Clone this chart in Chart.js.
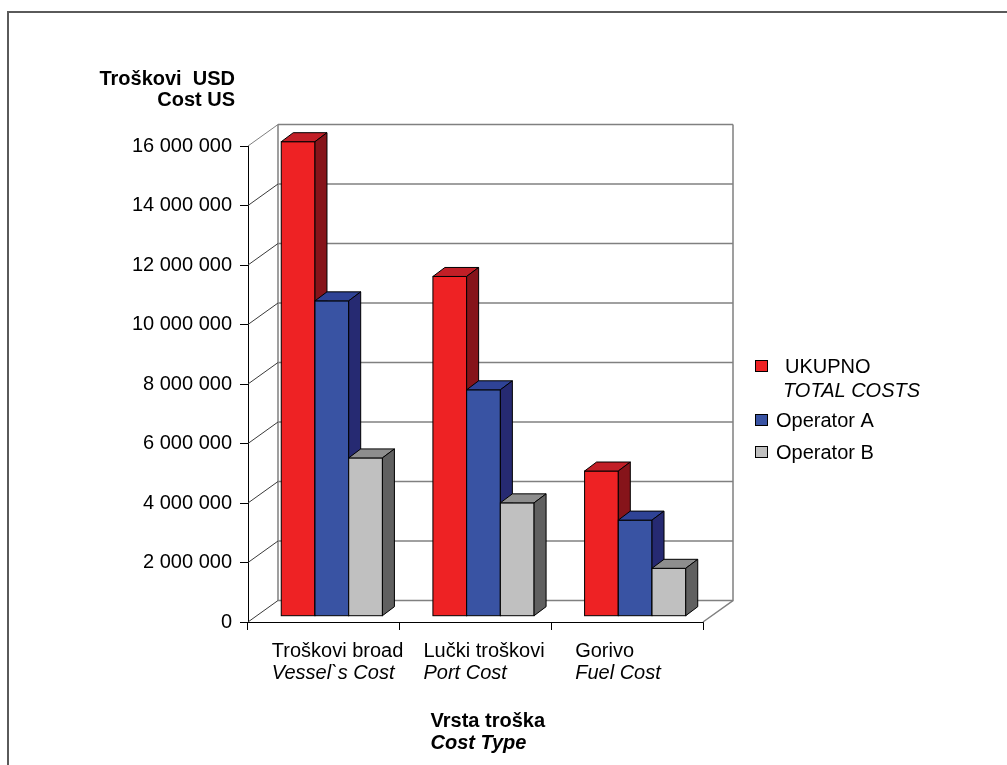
<!DOCTYPE html>
<html lang="hr">
<head>
  <meta charset="UTF-8">
  <title>Troškovi po vrsti troška</title>
  <script src="https://cdn.jsdelivr.net/npm/chart.js"></script>
  <style>
    body { margin: 0; background: #fff; }
    canvas { display: block; }
  </style>
</head>
<body>
  <canvas id="chart" width="1007" height="765" style="width:1007px;height:765px"></canvas>

  <script>
    // podaci
    const categories = ['Troškovi broad', 'Lučki troškovi', 'Gorivo'];
    const categoriesEn = ['Vessel`s Cost', 'Port Cost', 'Fuel Cost'];
    const seriesNames = ['UKUPNO', 'Operator A', 'Operator B'];
    const seriesNamesEn = ['TOTAL COSTS', '', ''];
    const totalCosts = [15950000, 11420000, 4880000];
    const operatorA = [10600000, 7610000, 3230000];
    const operatorB = [5320000, 3810000, 1610000];
    const yMax = 16000000;
    const yStep = 2000000;

    const FONT = "'Liberation Sans', Arial, sans-serif";
    const SIZE = 20;

    // boje: prednja strana, vrh, bok
    const faces = [
      ['#ee2224', '#c21f27', '#86141a'],
      ['#3953a3', '#2f4396', '#262a72'],
      ['#c0c0c0', '#8e8e8e', '#606060']
    ];

    const wallDx = 30, wallDy = -21.5;   // dubina zidova
    const barOx = 8, barOy = -5.8;       // pomak stupca u dubinu
    const barDx = 12, barDy = -9;        // debljina stupca

    const fmt = v => String(v).replace(/\B(?=(\d{3})+(?!\d))/g, ' ');

    const threeD = {
      id: 'threeD',
      beforeDraw(chart) {
        const c = chart.ctx;
        c.save();
        c.fillStyle = '#fff';
        c.fillRect(0, 0, chart.width, chart.height);
        c.strokeStyle = '#5a5a5a';
        c.lineWidth = 2;
        c.beginPath();
        c.moveTo(8, chart.height);
        c.lineTo(8, 12);
        c.lineTo(chart.width, 12);
        c.stroke();
        c.restore();
      },
      beforeDatasetsDraw(chart) {
        const c = chart.ctx;
        const a = chart.chartArea;
        const y = chart.scales.y;
        c.save();
        // stražnji zid i pod
        c.strokeStyle = '#808080';
        c.lineWidth = 1.5;
        c.beginPath();
        c.moveTo(a.left + wallDx, a.bottom + wallDy);
        c.lineTo(a.left + wallDx, a.top + wallDy);
        c.moveTo(a.right + wallDx, a.top + wallDy);
        c.lineTo(a.right + wallDx, a.bottom + wallDy);
        c.lineTo(a.right, a.bottom);
        c.stroke();
        for (let v = 0; v <= yMax; v += yStep) {
          const py = y.getPixelForValue(v);
          c.strokeStyle = '#808080';
          c.lineWidth = 1.5;
          c.beginPath();
          c.moveTo(a.left + wallDx, py + wallDy);
          c.lineTo(a.right + wallDx, py + wallDy);
          c.stroke();
          c.strokeStyle = v === yMax ? '#808080' : '#3a3a3a';
          c.lineWidth = 1;
          c.beginPath();
          c.moveTo(a.left, py);
          c.lineTo(a.left + wallDx, py + wallDy);
          c.stroke();
        }

        // 3D stupci
        const n = chart.data.labels.length;
        for (let i = 0; i < n; i++) {
          chart.data.datasets.forEach((ds, d) => {
            const el = chart.getDatasetMeta(d).data[i];
            const l = el.x - el.width / 2 + barOx;
            const r = l + el.width;
            const t = el.y + barOy;
            const b = el.base + barOy;
            c.lineWidth = 1;
            c.strokeStyle = '#000';
            c.lineJoin = 'miter';
            // prednja strana
            c.fillStyle = faces[d][0];
            c.fillRect(l, t, r - l, b - t);
            c.strokeRect(l, t, r - l, b - t);
            // vrh
            c.fillStyle = faces[d][1];
            c.beginPath();
            c.moveTo(l, t);
            c.lineTo(l + barDx, t + barDy);
            c.lineTo(r + barDx, t + barDy);
            c.lineTo(r, t);
            c.closePath();
            c.fill();
            c.stroke();
            // bok
            c.fillStyle = faces[d][2];
            c.beginPath();
            c.moveTo(r, t);
            c.lineTo(r + barDx, t + barDy);
            c.lineTo(r + barDx, b + barDy);
            c.lineTo(r, b);
            c.closePath();
            c.fill();
            c.stroke();
          });
        }
        c.restore();
        return false;
      },
      afterDraw(chart) {
        const c = chart.ctx;
        const a = chart.chartArea;
        const x = chart.scales.x;
        c.save();
        c.fillStyle = '#000';
        c.textBaseline = 'alphabetic';

        // naslov osi Y
        c.textAlign = 'right';
        c.font = `bold ${SIZE}px ${FONT}`;
        c.fillText('Troškovi  USD', 235, 85);
        c.fillText('Cost US', 235, 106);

        // oznake kategorija
        c.textAlign = 'left';
        categories.forEach((cat, i) => {
          const cx = x.getPixelForValue(i) - 52;
          c.font = `${SIZE}px ${FONT}`;
          c.fillText(cat, cx, a.bottom + 35);
          c.font = `italic ${SIZE}px ${FONT}`;
          c.fillText(categoriesEn[i], cx, a.bottom + 57);
        });

        // naslov osi X
        const tx = (a.left + a.right) / 2 - 45;
        c.font = `bold ${SIZE}px ${FONT}`;
        c.fillText('Vrsta troška', tx, a.bottom + 105);
        c.font = `bold italic ${SIZE}px ${FONT}`;
        c.fillText('Cost Type', tx, a.bottom + 127);

        // legenda
        const lx = 755;
        const rows = [{ y: 366, tx: 785 }, { y: 420, tx: 776 }, { y: 452, tx: 776 }];
        seriesNames.forEach((name, d) => {
          const row = rows[d];
          c.fillStyle = faces[d][0];
          c.fillRect(lx, row.y - 6, 13, 12);
          c.strokeStyle = '#000';
          c.lineWidth = 1;
          c.strokeRect(lx + 0.5, row.y - 5.5, 12, 11);
          c.fillStyle = '#000';
          c.font = `${SIZE}px ${FONT}`;
          c.fillText(name, row.tx, row.y + 7);
          if (seriesNamesEn[d]) {
            c.font = `italic ${SIZE}px ${FONT}`;
            c.fillText(seriesNamesEn[d], row.tx - 2, row.y + 31);
          }
        });
        c.restore();
      }
    };

    const ctx = document.getElementById('chart').getContext('2d');
    const chart = new Chart(ctx, {
      type: 'bar',
      data: {
        labels: categories,
        datasets: [
          { label: seriesNames[0], data: totalCosts, backgroundColor: faces[0][0] },
          { label: seriesNames[1], data: operatorA, backgroundColor: faces[1][0] },
          { label: seriesNames[2], data: operatorB, backgroundColor: faces[2][0] }
        ]
      },
      options: {
        responsive: false,
        animation: false,
        devicePixelRatio: 1,
        layout: { padding: { left: 0, top: 146, right: 304, bottom: 0 } },
        datasets: { bar: { categoryPercentage: 0.667, barPercentage: 1 } },
        plugins: {
          legend: { display: false },
          tooltip: { enabled: false }
        },
        scales: {
          x: {
            offset: true,
            grid: { offset: true, drawOnChartArea: false, drawTicks: true, tickLength: 8, color: '#000' },
            border: { color: '#000', width: 1 },
            ticks: { display: false },
            afterFit(s) { s.height = 143; }
          },
          y: {
            min: 0,
            max: yMax,
            ticks: {
              stepSize: yStep,
              padding: 8,
              color: '#000',
              font: { family: FONT, size: SIZE },
              callback: v => fmt(v)
            },
            grid: { drawOnChartArea: false, tickLength: 8, color: '#000' },
            border: { color: '#000', width: 1 },
            afterFit(s) { s.width = 248; }
          }
        }
      },
      plugins: [threeD]
    });
  </script>
</body>
</html>
